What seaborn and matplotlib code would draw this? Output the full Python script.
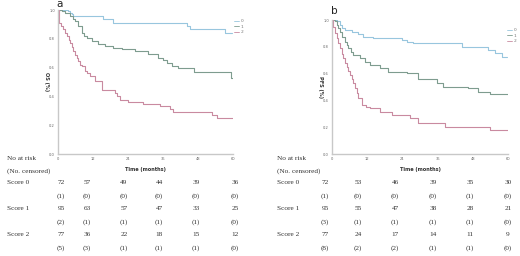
import numpy as np
import pandas as pd
import matplotlib
matplotlib.use("Agg")
import matplotlib.pyplot as plt
import seaborn as sns

# ---------------- data ----------------
groups = ["0", "1", "2"]
tick_months = [0, 12, 24, 36, 48, 60]
ytick_vals = [0.0, 0.2, 0.4, 0.6, 0.8, 1.0]

os0_t = [0, 3.4, 4.2, 4.7, 5.2, 15.4, 18.9, 44.1, 45.3, 57.3, 59.5]
os0_s = [1.0, 0.99, 0.98, 0.97, 0.958, 0.935, 0.907, 0.889, 0.865, 0.842, 0.842]
os1_t = [0, 1.5, 2.4, 4.1, 5.0, 5.8, 7.0, 8.1, 9.0, 9.8, 11.6, 13.8, 16.1, 19.0,
         21.8, 26.4, 31.0, 34.4, 36.0, 37.5, 39.0, 41.0, 46.5, 59.3, 60]
os1_s = [1.0, 0.99, 0.982, 0.958, 0.94, 0.923, 0.889, 0.842, 0.82, 0.807, 0.784,
         0.761, 0.749, 0.738, 0.726, 0.714, 0.691, 0.668, 0.65, 0.633, 0.614, 0.60,
         0.572, 0.53, 0.53]
os2_t = [0, 0.5, 1.0, 1.8, 2.4, 3.0, 3.6, 4.1, 4.7, 5.2, 5.8, 6.4, 7.0, 7.5, 8.1,
         9.3, 9.8, 11.0, 12.7, 15.0, 19.5, 20.1, 21.3, 24.1, 29.3, 35.0, 38.4, 39.5,
         52.7, 54.4, 60]
os2_s = [1.0, 0.912, 0.89, 0.865, 0.84, 0.819, 0.795, 0.772, 0.74, 0.714, 0.69,
         0.668, 0.645, 0.621, 0.609, 0.574, 0.563, 0.539, 0.505, 0.447, 0.424, 0.400,
         0.377, 0.361, 0.347, 0.330, 0.314, 0.295, 0.272, 0.249, 0.249]

pfs0_t = [0, 1.6, 2.7, 3.5, 4.4, 6.7, 9.0, 10.7, 14.1, 23.8, 25.5, 27.7, 44.2,
          53.3, 55.5, 57.8, 59.6]
pfs0_s = [1.0, 0.99, 0.963, 0.94, 0.925, 0.913, 0.893, 0.876, 0.863, 0.851, 0.838,
          0.826, 0.801, 0.775, 0.751, 0.726, 0.726]
pfs1_t = [0, 1.0, 1.6, 2.2, 2.7, 3.5, 4.4, 5.0, 5.6, 6.5, 7.3, 9.5, 11.3, 13.0,
          16.4, 19.2, 25.5, 29.4, 35.7, 38.0, 46.5, 49.9, 53.9, 60]
pfs1_s = [1.0, 0.99, 0.963, 0.94, 0.913, 0.875, 0.838, 0.81, 0.789, 0.76, 0.739,
          0.714, 0.689, 0.664, 0.639, 0.614, 0.602, 0.56, 0.528, 0.502, 0.490, 0.465,
          0.445, 0.445]
pfs2_t = [0, 0.3, 0.9, 1.6, 2.2, 2.7, 3.3, 3.9, 4.4, 5.0, 5.6, 6.1, 6.7, 7.3, 7.8,
          8.4, 9.0, 10.1, 11.5, 13.0, 16.4, 20.3, 26.6, 29.4, 38.5, 53.9, 60]
pfs2_s = [1.0, 0.95, 0.90, 0.863, 0.826, 0.789, 0.75, 0.714, 0.68, 0.652, 0.62,
          0.590, 0.56, 0.528, 0.49, 0.453, 0.42, 0.366, 0.35, 0.341, 0.316, 0.291,
          0.266, 0.234, 0.204, 0.179, 0.179]

os_risk0 = [72, 57, 49, 44, 39, 36]
os_cens0 = [1, 0, 0, 0, 0, 0]
os_risk1 = [95, 63, 57, 47, 33, 25]
os_cens1 = [2, 1, 1, 1, 1, 0]
os_risk2 = [77, 36, 22, 18, 15, 12]
os_cens2 = [5, 3, 1, 1, 1, 0]

pfs_risk0 = [72, 53, 46, 39, 35, 30]
pfs_cens0 = [1, 0, 0, 0, 1, 0]
pfs_risk1 = [95, 55, 47, 38, 28, 21]
pfs_cens1 = [3, 1, 1, 1, 1, 0]
pfs_risk2 = [77, 24, 17, 14, 11, 9]
pfs_cens2 = [8, 2, 2, 1, 1, 0]

row_labels = ["Score 0", "Score 1", "Score 2"]

# ---------------- style ----------------
sns.set_style("white")
plt.rcParams["font.family"] = ["DejaVu Sans"]
colors = {"0": "#98c6de", "1": "#7e9c8f", "2": "#c98aa0"}

W, H = 520, 256
fig = plt.figure(figsize=(W / 100, H / 100), dpi=100)


def fx(px):
    return px / W


def fy(py):
    return 1 - py / H


def make_df(ts, ss):
    rows = []
    for g, t, s in zip(groups, ts, ss):
        for ti, si in zip(t, s):
            rows.append({"time": ti, "surv": si, "group": g})
    return pd.DataFrame(rows)


def draw_panel(left, right, top, bottom, df, ylabel, letter, letter_xy, leg_xy):
    ax = fig.add_axes([fx(left), fy(bottom), fx(right - left), (bottom - top) / H])
    sns.lineplot(data=df, x="time", y="surv", hue="group", palette=colors,
                 estimator=None, drawstyle="steps-post", linewidth=0.8, ax=ax,
                 legend=True)
    ax.set_xlim(0, 60)
    ax.set_ylim(0, 1.0)
    ax.set_xticks(tick_months)
    ax.set_yticks(ytick_vals)
    ax.set_yticklabels([f"{v:.1f}" for v in ytick_vals])
    ax.tick_params(axis="both", labelsize=2.6, length=1.2, width=0.4,
                   pad=1, colors="#666666")
    for sp in ["top", "right"]:
        ax.spines[sp].set_visible(False)
    for sp in ["left", "bottom"]:
        ax.spines[sp].set_color("#c8c8c8")
        ax.spines[sp].set_linewidth(1.0)
    ax.set_xlabel("Time (months)", fontsize=3.6, fontweight="bold", labelpad=4,
                  color="#333333")
    ax.set_ylabel(ylabel, fontsize=3.6, fontweight="bold", rotation=270,
                  labelpad=8, color="#333333")
    ax.yaxis.set_label_coords(-0.08, 0.5)
    leg = ax.legend(loc="upper left", bbox_to_anchor=leg_xy,
                    bbox_transform=fig.transFigure, fontsize=3.2, frameon=False,
                    handlelength=1.2, handletextpad=0.3, labelspacing=0.35,
                    borderpad=0, borderaxespad=0)
    for line in leg.get_lines():
        line.set_linewidth(0.6)
    for t in leg.get_texts():
        t.set_color("#777777")
    fig.text(fx(letter_xy[0]), fy(letter_xy[1]), letter, fontsize=7.5,
             ha="left", va="center", color="#222222")
    return ax


df_os = make_df([os0_t, os1_t, os2_t], [os0_s, os1_s, os2_s])
df_pfs = make_df([pfs0_t, pfs1_t, pfs2_t], [pfs0_s, pfs1_s, pfs2_s])

draw_panel(58, 233, 10, 154, df_os, "OS (%)", "a", (56, 4),
           (fx(234), fy(19)))
draw_panel(332, 508, 20, 154, df_pfs, "PFS (%)", "b", (331, 11),
           (fx(507), fy(28)))

# ---------------- risk tables ----------------
serif = dict(family=["Liberation Serif", "DejaVu Serif"], fontsize=5.2,
             color="#333333")
row_y = [158, 171, 183, 196, 209, 222, 235, 248]


def risk_table(label_x, col_x, risks, cens):
    fig.text(fx(label_x), fy(row_y[0]), "No at risk", ha="left", va="center", **serif)
    fig.text(fx(label_x), fy(row_y[1]), "(No. censored)", ha="left", va="center", **serif)
    for i in range(3):
        yr = row_y[2 + 2 * i]
        yc = row_y[3 + 2 * i]
        fig.text(fx(label_x), fy(yr), row_labels[i], ha="left", va="center", **serif)
        for x, r, c in zip(col_x, risks[i], cens[i]):
            fig.text(fx(x), fy(yr), str(r), ha="center", va="center", **serif)
            fig.text(fx(x), fy(yc), f"({c})", ha="center", va="center", **serif)


risk_table(7, [61, 87, 124, 159, 196, 235],
           [os_risk0, os_risk1, os_risk2], [os_cens0, os_cens1, os_cens2])
risk_table(277, [325, 358, 395, 433, 470, 508],
           [pfs_risk0, pfs_risk1, pfs_risk2], [pfs_cens0, pfs_cens1, pfs_cens2])

fig.savefig("out.png", dpi=100)
